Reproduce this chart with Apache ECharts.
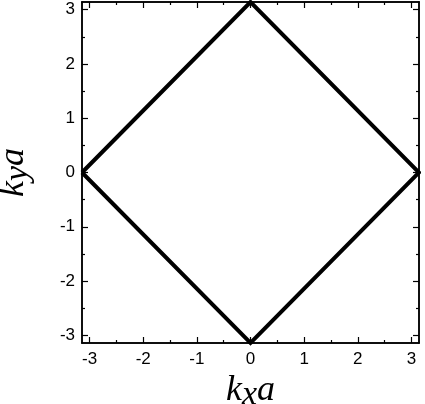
<!DOCTYPE html>
<html>
<head>
<meta charset="utf-8">
<script src="https://cdn.jsdelivr.net/npm/echarts@6/dist/echarts.min.js"></script>
<style>
  html, body { margin: 0; padding: 0; background: #fff; }
  #chart { width: 425px; height: 404px; }
</style>
</head>
<body>
<div id="chart"></div>
<script>
// diamond (first Brillouin zone boundary), closed path
var kx = [-Math.PI, 0, Math.PI, 0, -Math.PI];
var ky = [0, Math.PI, 0, -Math.PI, 0];
var majorTicks = [-3, -2, -1, 0, 1, 2, 3];
var minorTicks = [-2.5, -1.5, -0.5, 0.5, 1.5, 2.5];

var lim = Math.PI;
var black = "#000";

// builds one axis; labels only on the main bottom/left one
function makeAxis(pos, ticks, len, withLabel, extra) {
  var ax = {
    type: "value",
    position: pos,
    min: -lim,
    max: lim,
    splitLine: { show: false },
    axisLine: { show: true, onZero: false, lineStyle: { color: black, width: 1.5 } },
    axisTick: {
      show: true,
      inside: true,
      length: len,
      customValues: ticks,
      lineStyle: { color: black, width: 1.2 }
    },
    axisLabel: withLabel ? {
      show: true,
      customValues: ticks,
      color: black,
      fontSize: 17,
      fontFamily: "Liberation Sans",
      margin: pos === "bottom" ? 8 : 7
    } : { show: false }
  };
  for (var k in extra) ax[k] = extra[k];
  return ax;
}

var nameRich = {
  fontFamily: "Liberation Serif",
  fontStyle: "italic",
  fontSize: 36,
  color: black,
  rich: {
    m: { fontFamily: "Liberation Serif", fontStyle: "italic", fontSize: 36, color: black },
    s: { fontFamily: "Liberation Serif", fontStyle: "italic", fontSize: 34, color: black, padding: [8, 0, 0, 0] }
  }
};

var option = {
  backgroundColor: "#fff",
  animation: false,
  grid: { left: 82, right: 6, top: 2, bottom: 61, containLabel: false, outerBoundsMode: "none" },
  xAxis: [
    makeAxis("bottom", majorTicks, 6, true, {
      name: "{m|k}{s|x}{m|a}",
      nameLocation: "middle",
      nameGap: 23,
      nameTextStyle: nameRich
    }),
    makeAxis("bottom", minorTicks, 3, false, {}),
    makeAxis("top", majorTicks, 6, false, {}),
    makeAxis("top", minorTicks, 3, false, {})
  ],
  yAxis: [
    makeAxis("left", majorTicks, 6, true, {
      name: "{m|k}{s|y}{m|a}",
      nameLocation: "middle",
      nameGap: 47,
      nameTextStyle: nameRich
    }),
    makeAxis("left", minorTicks, 3, false, {}),
    makeAxis("right", majorTicks, 6, false, {}),
    makeAxis("right", minorTicks, 3, false, {})
  ],
  series: [
    {
      type: "line",
      xAxisIndex: 0,
      yAxisIndex: 0,
      data: kx.map(function (v, i) { return [v, ky[i]]; }),
      showSymbol: false,
      symbol: "none",
      clip: false,
      lineStyle: { color: black, width: 4, join: "miter" }
    }
  ]
};

var myChart = echarts.init(document.getElementById("chart"));
myChart.setOption(option);
</script>
</body>
</html>
